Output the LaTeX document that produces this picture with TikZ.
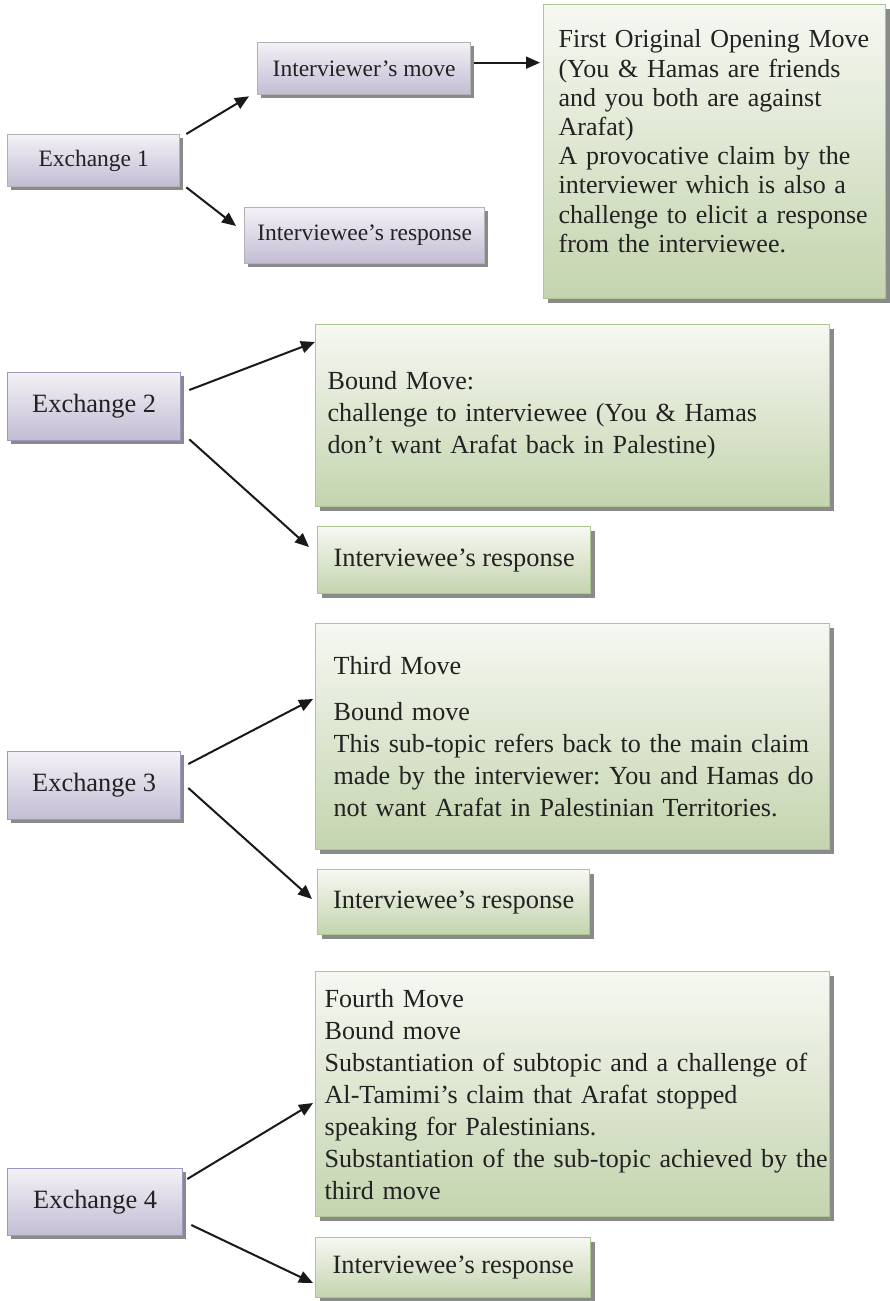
\documentclass[tikz,border=0pt]{standalone}
\usepackage{fontspec}
\setmainfont{Liberation Serif}
\usetikzlibrary{arrows.meta,calc,shadows}

\definecolor{inkcol}{HTML}{222222}
\definecolor{lilacTop}{HTML}{F3F1F6}
\definecolor{lilacBot}{HTML}{C3BCD4}
\definecolor{greyEdge}{HTML}{B2B2B2}
\definecolor{lilacEdge}{HTML}{A096C2}
\definecolor{greenTop}{HTML}{F6F8F2}
\definecolor{greenBot}{HTML}{C4D4AE}
\definecolor{greenEdge}{HTML}{A9C78F}
\definecolor{shadowcol}{HTML}{8A8A8A}

\newcommand\fsz[2]{\fontsize{#1}{#2}\selectfont\frenchspacing}
% one unbreakable text line
\newcommand\oneline[1]{\mbox{#1}}

\begin{document}
\begin{tikzpicture}[x=1pt,y=-1pt,
  box/.style={draw, line width=1.3pt, inner sep=0pt, anchor=north west, text=inkcol},
  lilac/.style={box, top color=lilacTop, bottom color=lilacBot,
    drop shadow={shadow xshift=3pt, shadow yshift=-3pt, fill=shadowcol, opacity=1}},
  greenbox/.style={box, draw=greenEdge, top color=greenTop, bottom color=greenBot,
    drop shadow={shadow xshift=4pt, shadow yshift=-4pt, fill=shadowcol, opacity=1}},
  note/.style={greenbox, align=left, inner ysep=0pt},
  arr/.style={draw=black!90, line width=2pt, -{Triangle[length=14pt,width=12pt]}}
]
\useasboundingbox (0,0) rectangle (889,1301);

% ---- Exchange 1 ----
\node[lilac, draw=greyEdge, minimum width=172pt, minimum height=52pt, font=\fsz{23.5}{27}] (ex1) at (7,134) {Exchange 1};
\node[lilac, draw=greyEdge, minimum width=213pt, minimum height=52pt, font=\fsz{23.5}{27}] (im) at (257,42) {Interviewer’s move};
\node[lilac, draw=greyEdge, minimum width=240pt, minimum height=56pt, font=\fsz{23.5}{27}] (ir1) at (244,207) {Interviewee’s response};
\node[note, minimum height=294pt, text width=312pt, inner xsep=15pt, font=\fsz{26}{29.2}] (g1) at (543,4)
  {\oneline{First Original Opening Move}\\\oneline{(You \& Hamas are friends}\\\oneline{and you both are against}\\Arafat)\\\oneline{A provocative claim by the}\\\oneline{interviewer which is also a}\\\oneline{challenge to elicit a response}\\\oneline{from the interviewee.}\\[-8pt]\mbox{}};

\draw[arr] ($(ex1.north east)+(6,0)$) -- ($(im.south west)+(-8,1)$);
\draw[arr] ($(ex1.south east)+(6,0)$) -- ($(ir1.north west)+(-8,19)$);
\draw[arr] ($(im.east)+(3,-6)$) -- ($(im.east -| g1.west)+(-3,-6)$);

% ---- Exchange 2 ----
\node[lilac, draw=lilacEdge, minimum width=173pt, minimum height=68pt, font=\fsz{26.4}{30}] (ex2) at (7,372) {Exchange 2};
\node[note, minimum height=182pt, text width=490pt, inner xsep=12pt, font=\fsz{26.1}{32}] (g2) at (315,324)
  {Bound Move:\\\oneline{challenge to interviewee (You \& Hamas}\\\oneline{don’t want Arafat back in Palestine)}};
\node[greenbox, minimum width=273pt, minimum height=67pt, font=\fsz{26.4}{30}] (ir2) at (317,526) {Interviewee’s response};

\draw[arr] ($(ex2.north east)+(8,18)$) -- ($(g2.north west)+(0,18)$);
\draw[arr] ($(ex2.south east)+(8,-2)$) -- ($(ir2.north west)+(-8,21)$);

% ---- Exchange 3 ----
\node[lilac, draw=lilacEdge, minimum width=173pt, minimum height=68pt, font=\fsz{26.4}{30}] (ex3) at (7,751) {Exchange 3};
\node[note, minimum height=226pt, text width=478pt, inner xsep=18pt, font=\fsz{26.1}{32}] (g3) at (315,623)
  {Third Move\\[14pt]Bound move\\\oneline{This sub-topic refers back to the main claim}\\\oneline{made by the interviewer: You and Hamas do}\\\oneline{not want Arafat in Palestinian Territories.}};
\node[greenbox, minimum width=272pt, minimum height=65pt, font=\fsz{26.4}{30}] (ir3) at (317,869) {Interviewee’s response};

\draw[arr] ($(ex3.north east)+(7,13)$) -- ($(g3.north west)+(-2,76)$);
\draw[arr] ($(ex3.north east)+(7,37)$) -- ($(ir3.north west)+(-5,30)$);

% ---- Exchange 4 ----
\node[lilac, draw=lilacEdge, minimum width=175pt, minimum height=67pt, font=\fsz{26.4}{30}] (ex4) at (7,1168) {Exchange 4};
\node[note, minimum height=245pt, text width=496pt, inner xsep=9pt, font=\fsz{26.1}{32}] (g4) at (315,971)
  {Fourth Move\\Bound move\\\oneline{Substantiation of subtopic and a challenge of}\\\oneline{Al-Tamimi’s claim that Arafat stopped}\\\oneline{speaking for Palestinians.}\\\oneline{Substantiation of the sub-topic achieved by the}\\third move};
\node[greenbox, minimum width=275pt, minimum height=60pt, font=\fsz{26.4}{30}] (ir4) at (315,1237) {Interviewee’s response};

\draw[arr] ($(ex4.north east)+(4,11)$) -- ($(g4.north west)+(-2,132)$);
\draw[arr] ($(ex4.north east)+(8,57)$) -- ($(ir4.north west)+(-2,46)$);
\end{tikzpicture}
\end{document}
